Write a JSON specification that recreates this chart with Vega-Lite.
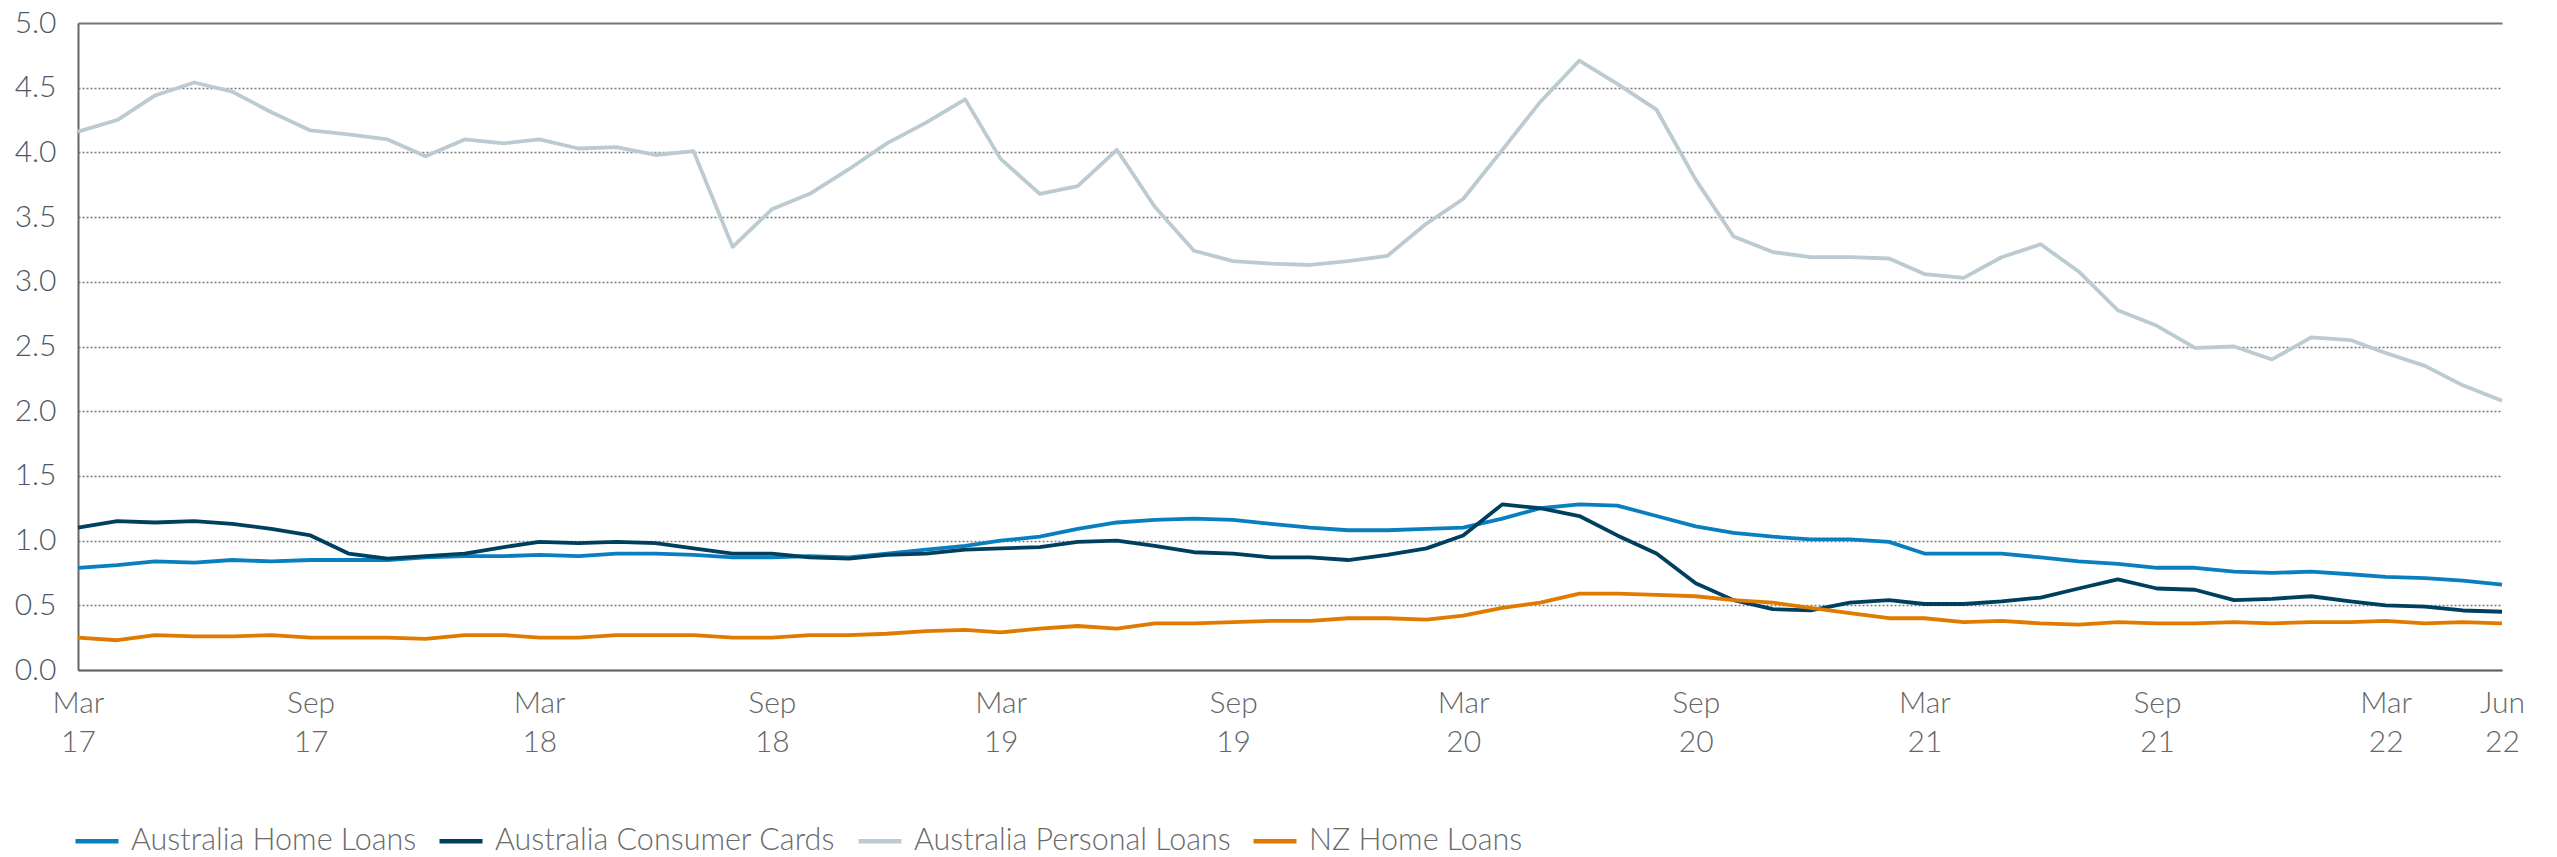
{
  "$schema": "https://vega.github.io/schema/vega-lite/v6.json",
  "autosize": {"type": "none"},
  "padding": {"left": 78, "top": 23, "right": 55, "bottom": 187},
  "width": 2424,
  "height": 647,
  "background": "white",
  "config": {
    "view": {"stroke": null},
    "font": "Lato",
    "axis": {"labelFont": "Lato", "labelFontWeight": 300},
    "legend": {"labelFont": "Lato", "labelFontWeight": 300}
  },
  "data": {
    "values": [
      {"date": "2017-03-01", "home": 0.79, "cards": 1.10, "personal": 4.16, "nz": 0.25},
      {"date": "2017-04-01", "home": 0.81, "cards": 1.15, "personal": 4.25, "nz": 0.23},
      {"date": "2017-05-01", "home": 0.84, "cards": 1.14, "personal": 4.44, "nz": 0.27},
      {"date": "2017-06-01", "home": 0.83, "cards": 1.15, "personal": 4.54, "nz": 0.26},
      {"date": "2017-07-01", "home": 0.85, "cards": 1.13, "personal": 4.47, "nz": 0.26},
      {"date": "2017-08-01", "home": 0.84, "cards": 1.09, "personal": 4.31, "nz": 0.27},
      {"date": "2017-09-01", "home": 0.85, "cards": 1.04, "personal": 4.17, "nz": 0.25},
      {"date": "2017-10-01", "home": 0.85, "cards": 0.90, "personal": 4.14, "nz": 0.25},
      {"date": "2017-11-01", "home": 0.85, "cards": 0.86, "personal": 4.10, "nz": 0.25},
      {"date": "2017-12-01", "home": 0.87, "cards": 0.88, "personal": 3.97, "nz": 0.24},
      {"date": "2018-01-01", "home": 0.88, "cards": 0.90, "personal": 4.10, "nz": 0.27},
      {"date": "2018-02-01", "home": 0.88, "cards": 0.95, "personal": 4.07, "nz": 0.27},
      {"date": "2018-03-01", "home": 0.89, "cards": 0.99, "personal": 4.10, "nz": 0.25},
      {"date": "2018-04-01", "home": 0.88, "cards": 0.98, "personal": 4.03, "nz": 0.25},
      {"date": "2018-05-01", "home": 0.90, "cards": 0.99, "personal": 4.04, "nz": 0.27},
      {"date": "2018-06-01", "home": 0.90, "cards": 0.98, "personal": 3.98, "nz": 0.27},
      {"date": "2018-07-01", "home": 0.89, "cards": 0.94, "personal": 4.01, "nz": 0.27},
      {"date": "2018-08-01", "home": 0.87, "cards": 0.90, "personal": 3.27, "nz": 0.25},
      {"date": "2018-09-01", "home": 0.87, "cards": 0.90, "personal": 3.56, "nz": 0.25},
      {"date": "2018-10-01", "home": 0.88, "cards": 0.87, "personal": 3.68, "nz": 0.27},
      {"date": "2018-11-01", "home": 0.87, "cards": 0.86, "personal": 3.87, "nz": 0.27},
      {"date": "2018-12-01", "home": 0.90, "cards": 0.89, "personal": 4.07, "nz": 0.28},
      {"date": "2019-01-01", "home": 0.93, "cards": 0.90, "personal": 4.23, "nz": 0.30},
      {"date": "2019-02-01", "home": 0.96, "cards": 0.93, "personal": 4.41, "nz": 0.31},
      {"date": "2019-03-01", "home": 1.00, "cards": 0.94, "personal": 3.95, "nz": 0.29},
      {"date": "2019-04-01", "home": 1.03, "cards": 0.95, "personal": 3.68, "nz": 0.32},
      {"date": "2019-05-01", "home": 1.09, "cards": 0.99, "personal": 3.74, "nz": 0.34},
      {"date": "2019-06-01", "home": 1.14, "cards": 1.00, "personal": 4.02, "nz": 0.32},
      {"date": "2019-07-01", "home": 1.16, "cards": 0.96, "personal": 3.58, "nz": 0.36},
      {"date": "2019-08-01", "home": 1.17, "cards": 0.91, "personal": 3.24, "nz": 0.36},
      {"date": "2019-09-01", "home": 1.16, "cards": 0.90, "personal": 3.16, "nz": 0.37},
      {"date": "2019-10-01", "home": 1.13, "cards": 0.87, "personal": 3.14, "nz": 0.38},
      {"date": "2019-11-01", "home": 1.10, "cards": 0.87, "personal": 3.13, "nz": 0.38},
      {"date": "2019-12-01", "home": 1.08, "cards": 0.85, "personal": 3.16, "nz": 0.40},
      {"date": "2020-01-01", "home": 1.08, "cards": 0.89, "personal": 3.20, "nz": 0.40},
      {"date": "2020-02-01", "home": 1.09, "cards": 0.94, "personal": 3.45, "nz": 0.39},
      {"date": "2020-03-01", "home": 1.10, "cards": 1.04, "personal": 3.64, "nz": 0.42},
      {"date": "2020-04-01", "home": 1.17, "cards": 1.28, "personal": 4.02, "nz": 0.48},
      {"date": "2020-05-01", "home": 1.25, "cards": 1.25, "personal": 4.39, "nz": 0.52},
      {"date": "2020-06-01", "home": 1.28, "cards": 1.19, "personal": 4.71, "nz": 0.59},
      {"date": "2020-07-01", "home": 1.27, "cards": 1.04, "personal": 4.53, "nz": 0.59},
      {"date": "2020-08-01", "home": 1.19, "cards": 0.90, "personal": 4.33, "nz": 0.58},
      {"date": "2020-09-01", "home": 1.11, "cards": 0.67, "personal": 3.79, "nz": 0.57},
      {"date": "2020-10-01", "home": 1.06, "cards": 0.54, "personal": 3.35, "nz": 0.54},
      {"date": "2020-11-01", "home": 1.03, "cards": 0.47, "personal": 3.23, "nz": 0.52},
      {"date": "2020-12-01", "home": 1.01, "cards": 0.46, "personal": 3.19, "nz": 0.48},
      {"date": "2021-01-01", "home": 1.01, "cards": 0.52, "personal": 3.19, "nz": 0.44},
      {"date": "2021-02-01", "home": 0.99, "cards": 0.54, "personal": 3.18, "nz": 0.40},
      {"date": "2021-03-01", "home": 0.90, "cards": 0.51, "personal": 3.06, "nz": 0.40},
      {"date": "2021-04-01", "home": 0.90, "cards": 0.51, "personal": 3.03, "nz": 0.37},
      {"date": "2021-05-01", "home": 0.90, "cards": 0.53, "personal": 3.19, "nz": 0.38},
      {"date": "2021-06-01", "home": 0.87, "cards": 0.56, "personal": 3.29, "nz": 0.36},
      {"date": "2021-07-01", "home": 0.84, "cards": 0.63, "personal": 3.08, "nz": 0.35},
      {"date": "2021-08-01", "home": 0.82, "cards": 0.70, "personal": 2.78, "nz": 0.37},
      {"date": "2021-09-01", "home": 0.79, "cards": 0.63, "personal": 2.66, "nz": 0.36},
      {"date": "2021-10-01", "home": 0.79, "cards": 0.62, "personal": 2.49, "nz": 0.36},
      {"date": "2021-11-01", "home": 0.76, "cards": 0.54, "personal": 2.50, "nz": 0.37},
      {"date": "2021-12-01", "home": 0.75, "cards": 0.55, "personal": 2.40, "nz": 0.36},
      {"date": "2022-01-01", "home": 0.76, "cards": 0.57, "personal": 2.57, "nz": 0.37},
      {"date": "2022-02-01", "home": 0.74, "cards": 0.53, "personal": 2.55, "nz": 0.37},
      {"date": "2022-03-01", "home": 0.72, "cards": 0.50, "personal": 2.45, "nz": 0.38},
      {"date": "2022-04-01", "home": 0.71, "cards": 0.49, "personal": 2.35, "nz": 0.36},
      {"date": "2022-05-01", "home": 0.69, "cards": 0.46, "personal": 2.20, "nz": 0.37},
      {"date": "2022-06-01", "home": 0.66, "cards": 0.45, "personal": 2.08, "nz": 0.36}
    ]
  },
  "transform": [
    {"fold": ["home", "cards", "personal", "nz"], "as": ["key", "value"]},
    {"lookup": "key", "from": {"data": {"values": [
      {"key": "home", "series": "Australia Home Loans"},
      {"key": "cards", "series": "Australia Consumer Cards"},
      {"key": "personal", "series": "Australia Personal Loans"},
      {"key": "nz", "series": "NZ Home Loans"}
    ]}, "key": "key", "fields": ["series"]}}
  ],
  "mark": {"type": "line", "strokeWidth": 3.8, "strokeJoin": "round", "clip": false},
  "encoding": {
    "x": {
      "field": "date",
      "type": "temporal",
      "scale": {
        "type": "utc",
        "domain": [
          {"year": 2017, "month": 3, "date": 1, "utc": true},
          {"year": 2022, "month": 6, "date": 1, "utc": true}
        ]
      },
      "axis": {
        "title": null,
        "values": [
          {"year": 2017, "month": 3, "date": 1, "utc": true},
          {"year": 2017, "month": 9, "date": 1, "utc": true},
          {"year": 2018, "month": 3, "date": 1, "utc": true},
          {"year": 2018, "month": 9, "date": 1, "utc": true},
          {"year": 2019, "month": 3, "date": 1, "utc": true},
          {"year": 2019, "month": 9, "date": 1, "utc": true},
          {"year": 2020, "month": 3, "date": 1, "utc": true},
          {"year": 2020, "month": 9, "date": 1, "utc": true},
          {"year": 2021, "month": 3, "date": 1, "utc": true},
          {"year": 2021, "month": 9, "date": 1, "utc": true},
          {"year": 2022, "month": 3, "date": 1, "utc": true},
          {"year": 2022, "month": 6, "date": 1, "utc": true}
        ],
        "labelExpr": "[utcFormat(datum.value, '%b'), utcFormat(datum.value, '%y')]",
        "labelFontSize": 30,
        "labelColor": "#666666",
        "labelLineHeight": 39,
        "labelPadding": 18,
        "labelAngle": 0,
        "labelOverlap": false,
        "labelFlush": false,
        "ticks": false,
        "grid": false,
        "domainColor": "#666666",
        "domainWidth": 2
      }
    },
    "y": {
      "field": "value",
      "type": "quantitative",
      "scale": {"domain": [0, 5], "nice": false},
      "axis": {
        "title": null,
        "values": [0, 0.5, 1, 1.5, 2, 2.5, 3, 3.5, 4, 4.5, 5],
        "format": ".1f",
        "labelFontSize": 30,
        "labelColor": "#4a5868",
        "labelPadding": 22,
        "ticks": false,
        "domainColor": "#666666",
        "domainWidth": 2,
        "grid": true,
        "gridColor": {"condition": {"test": "datum.value === 5", "value": "#777777"}, "value": "#7a7a7a"},
        "gridDash": {"condition": {"test": "datum.value === 5 || datum.value === 0", "value": []}, "value": [2, 2]},
        "gridWidth": {"condition": {"test": "datum.value === 5", "value": 2}, "value": 1.3}
      }
    },
    "color": {
      "field": "series",
      "type": "nominal",
      "scale": {
        "domain": ["Australia Home Loans", "Australia Consumer Cards", "Australia Personal Loans", "NZ Home Loans"],
        "range": ["#0a7fc0", "#00405f", "#bccbd2", "#e07b00"]
      },
      "legend": {
        "title": null,
        "orient": "none",
        "legendX": -5,
        "legendY": 794,
        "direction": "horizontal",
        "symbolType": "stroke",
        "symbolSize": 1850,
        "symbolStrokeWidth": 4.5,
        "labelFontSize": 30.5,
        "labelColor": "#6b6b6b",
        "labelOffset": 10,
        "columnPadding": 13,
        "labelLimit": 600
      }
    }
  }
}
